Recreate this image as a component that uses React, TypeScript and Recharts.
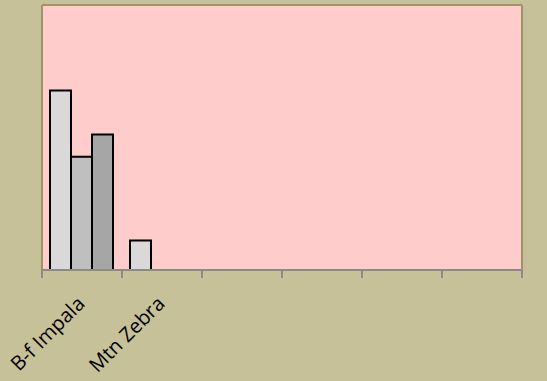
import React from "react";
import { BarChart, Bar, XAxis, YAxis, CartesianGrid } from "recharts";

const categories = ["B-f Impala", "Mtn Zebra", "", "", "", ""];
const series1 = [6.1, 1.0, null, null, null, null];
const series2 = [3.85, null, null, null, null, null];
const series3 = [4.6, null, null, null, null, null];

const data = categories.map((name, i) => ({
  name,
  idx: i,
  s1: series1[i],
  s2: series2[i],
  s3: series3[i],
}));

const TICK = 8;
const tickColor = "#8A8A8A";

const LabelTick = (props: any) => {
  const { x, y, payload } = props;
  const label = categories[payload.index] ?? "";
  const half = payload.offset || 0;
  const ax = x + 4;
  const ay = y + 27;
  const isLast = payload.index === categories.length - 1;
  return (
    <g>
      <line x1={x - half} x2={x - half} y1={y - TICK} y2={y} stroke={tickColor} strokeWidth={2} />
      {isLast && (
        <line x1={x + half} x2={x + half} y1={y - TICK} y2={y} stroke={tickColor} strokeWidth={2} />
      )}
      <text
        x={ax}
        y={ay}
        transform={`rotate(-45, ${ax}, ${ay})`}
        textAnchor="end"
        fontFamily="'Open Sans', sans-serif"
        fontSize={20}
        fill="#000"
      >
        {label}
      </text>
    </g>
  );
};

const border = { stroke: "#9F9463", strokeWidth: 2 };

export default function App() {
  return (
    <div style={{ position: "absolute", left: 0, top: 0, width: 547, height: 381, background: "#C7C19A" }}>
      <BarChart
        width={547}
        height={381}
        data={data}
        margin={{ top: 4, right: 24, bottom: 0, left: 41 }}
        barCategoryGap="10%"
        barGap={0}
      >
        <CartesianGrid xAxisId="cat" fill="#FFCCCC" horizontal={false} vertical={false} />
        <YAxis domain={[0, 9]} width={1} tick={false} tickLine={false} axisLine={border} />
        <YAxis yAxisId="r" orientation="right" domain={[0, 9]} width={1} tick={false} tickLine={false} axisLine={border} />
        <XAxis xAxisId="top" orientation="top" type="number" domain={[0, 6]} height={1} tick={false} tickLine={false} axisLine={border} />
        <XAxis
          xAxisId="cat"
          dataKey="idx"
          type="category"
          axisLine={{ stroke: tickColor, strokeWidth: 2 }}
          tickLine={false}
          tickSize={TICK}
          tickMargin={0}
          interval={0}
          tick={<LabelTick />}
          height={111}
        />
        <Bar xAxisId="cat" dataKey="s1" fill="#D9D9D9" stroke="#000" strokeWidth={2} isAnimationActive={false} />
        <Bar xAxisId="cat" dataKey="s2" fill="#BFBFBF" stroke="#000" strokeWidth={2} isAnimationActive={false} />
        <Bar xAxisId="cat" dataKey="s3" fill="#A6A6A6" stroke="#000" strokeWidth={2} isAnimationActive={false} />
      </BarChart>
    </div>
  );
}
